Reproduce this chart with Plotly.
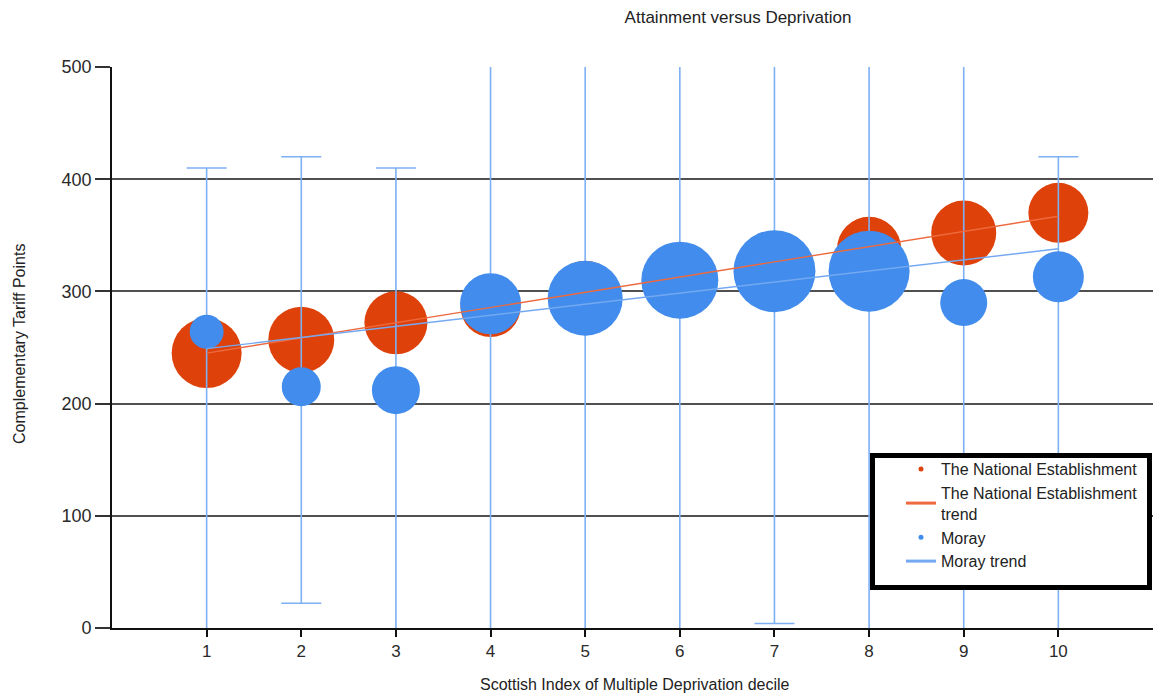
import plotly.graph_objects as go

# ---- data ----
deciles = [1, 2, 3, 4, 5, 6, 7, 8, 9, 10]
national_points = [245, 257, 272, 286, 298, 311, 322, 338, 352, 370]
national_bubble = [70, 66, 63, 60, 66, 64, 64, 64, 65, 60]
moray_points = [264, 215, 212, 289, 294, 310, 318, 318, 290, 313]
moray_bubble = [34, 39, 48, 61, 75, 77, 82, 81, 47, 51]
moray_high = [410, 420, 410, 540, 540, 540, 540, 540, 540, 420]
moray_low = [-40, 22, -40, -40, -40, -40, 4, -40, -40, -40]
trend_x = [1, 10]
national_trend = [245, 367]
moray_trend = [249, 338]
y_ticks = [0, 100, 200, 300, 400, 500]

RED = "#DE420A"
BLUE = "#418CEC"
RED_LINE = "#EE6A3E"
BLUE_LINE = "#74A9F2"
ERR = "#7DB0F4"
FONT = "Liberation Sans"

err_plus = [h - v for h, v in zip(moray_high, moray_points)]
err_minus = [v - l for v, l in zip(moray_points, moray_low)]

fig = go.Figure()

fig.add_trace(go.Scatter(
    x=deciles, y=national_points, mode="markers", showlegend=False,
    marker=dict(size=national_bubble, sizemode="diameter", sizeref=1,
                color=RED, line=dict(width=0), opacity=1),
    hoverinfo="skip"))

fig.add_trace(go.Scatter(
    x=deciles, y=moray_points, mode="markers", showlegend=False,
    marker=dict(size=moray_bubble, sizemode="diameter", sizeref=1,
                color=BLUE, line=dict(width=0), opacity=1),
    error_y=dict(type="data", symmetric=False, array=err_plus,
                 arrayminus=err_minus, color=ERR, thickness=1.6, width=20),
    hoverinfo="skip"))

fig.add_trace(go.Scatter(
    x=trend_x, y=national_trend, mode="lines", showlegend=False,
    line=dict(color=RED_LINE, width=1.4), hoverinfo="skip"))
fig.add_trace(go.Scatter(
    x=trend_x, y=moray_trend, mode="lines", showlegend=False,
    line=dict(color=BLUE_LINE, width=1.4), hoverinfo="skip"))

# legend entries
fig.add_trace(go.Scatter(x=[None], y=[None], mode="markers",
                         name="The National Establishment",
                         marker=dict(color=RED, size=5)))
fig.add_trace(go.Scatter(x=[None], y=[None], mode="lines",
                         name="The National Establishment<br>trend",
                         line=dict(color=RED_LINE, width=3)))
fig.add_trace(go.Scatter(x=[None], y=[None], mode="markers",
                         name="Moray", marker=dict(color=BLUE, size=5)))
fig.add_trace(go.Scatter(x=[None], y=[None], mode="lines",
                         name="Moray trend",
                         line=dict(color=BLUE_LINE, width=3)))

# body margin is removed by the post script, so figure = window
W, H = 1153, 694
PL, PR, PT, PB = 112, 1153, 67, 628   # plot area in window pixels
L, T = PL, PT
R, B = W - PR, H - PB
pw, ph = PR - PL, PB - PT

def px_x(p):
    return (p - PL) / pw

def px_y(p):
    return (PB - p) / ph

fig.update_layout(
    width=W, height=H,
    margin=dict(l=L, r=R, t=T, b=B, pad=0),
    paper_bgcolor="white", plot_bgcolor="white",
    font=dict(family=FONT, size=16, color="#333333"),
    title=dict(text="Attainment versus Deprivation", x=738 / W, xanchor="center",
               xref="container", y=1 - 17 / H, yanchor="middle", yref="container",
               font=dict(family=FONT, size=17, color="#222222")),
    showlegend=True,
    legend=dict(x=px_x(901), xanchor="left", y=px_y(452), yanchor="top",
                bgcolor="rgba(0,0,0,0)", borderwidth=0,
                font=dict(family=FONT, size=16, color="#222222"),
                tracegroupgap=0),
    xaxis=dict(range=[0, 11], tickvals=deciles, showgrid=False, zeroline=False,
               showline=True, linecolor="#111111", linewidth=2,
               ticks="outside", ticklen=7, tickcolor="#111111", tickwidth=1.5,
               tickfont=dict(family=FONT, size=17, color="#2a2a2a")),
    yaxis=dict(range=[0, 500], tickvals=y_ticks, showgrid=True,
               gridcolor="#505050", gridwidth=1.6, zeroline=False,
               showline=True, linecolor="#111111", linewidth=1.6,
               ticks="outside", ticklen=15, tickcolor="#333333", tickwidth=1.5,
               tickfont=dict(family=FONT, size=18, color="#2a2a2a")),
    shapes=[dict(type="rect", xref="paper", yref="paper",
                 x0=px_x(872.5), x1=px_x(1149.5), y0=px_y(587.5), y1=px_y(455.5),
                 line=dict(color="black", width=5), fillcolor="white", layer="above")],
    annotations=[
        dict(text="Scottish Index of Multiple Deprivation decile", xref="paper", yref="paper",
             x=px_x(635), y=px_y(684), xanchor="center", yanchor="middle", showarrow=False,
             font=dict(family=FONT, size=16, color="#222222")),
        dict(text="Complementary Tariff Points", xref="paper", yref="paper",
             x=px_x(19), y=px_y(344), xanchor="center", yanchor="middle", showarrow=False,
             textangle=-90, font=dict(family=FONT, size=16, color="#222222")),
    ],
)

fig.write_html(
    "out.html",
    config={"displayModeBar": False},
    post_script="document.body.style.margin='0px';document.body.style.overflow='hidden';",
)
